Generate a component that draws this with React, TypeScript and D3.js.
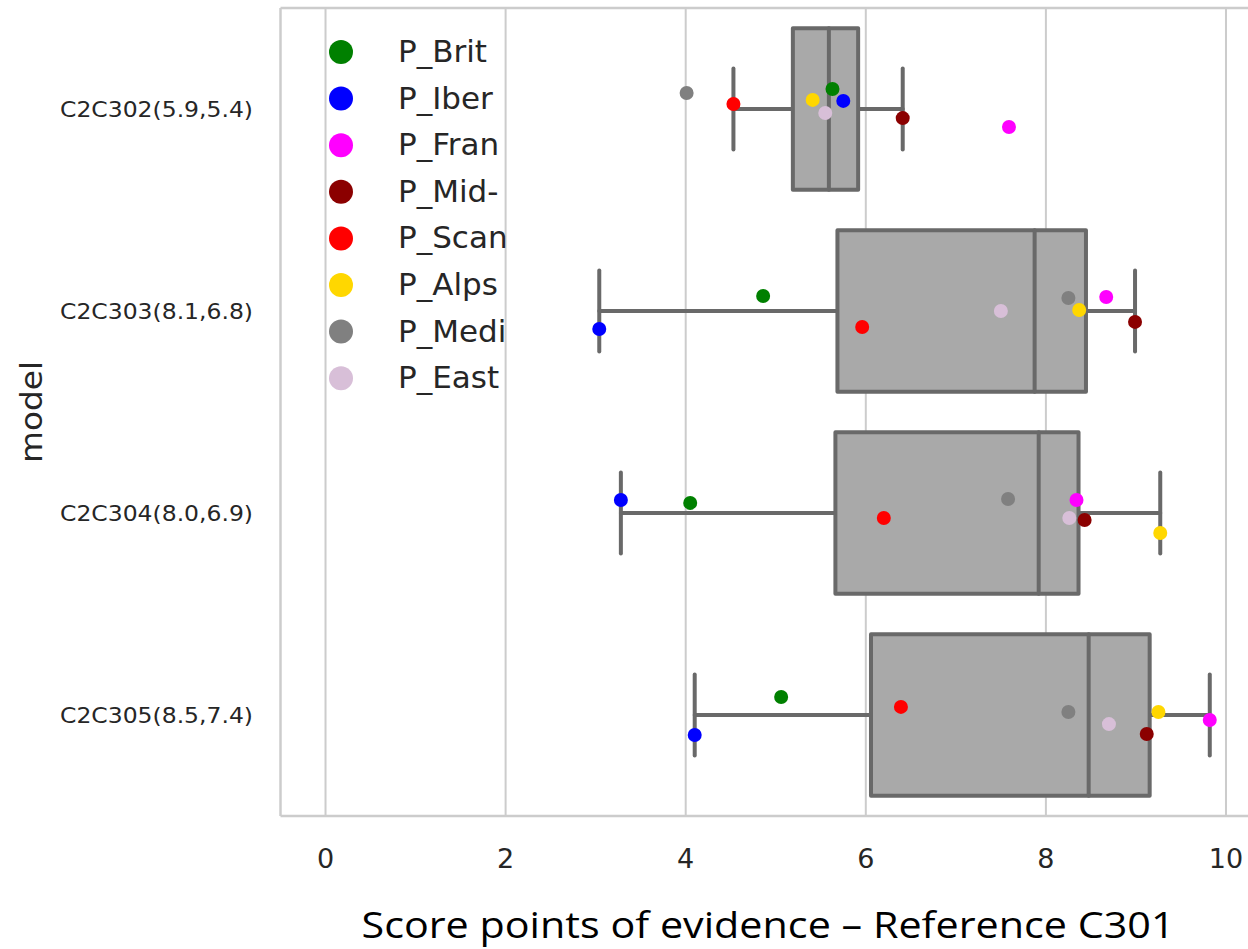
import React from "react";
import * as d3 from "d3";

const models = ["C2C302(5.9,5.4)", "C2C303(8.1,6.8)", "C2C304(8.0,6.9)", "C2C305(8.5,7.4)"];
const populations = ["P_Brit", "P_Iber", "P_Fran", "P_Mid-", "P_Scan", "P_Alps", "P_Medi", "P_East"];
const popColors = ["#008000", "#0000ff", "#ff00ff", "#8b0000", "#ff0000", "#ffd700", "#808080", "#d8bfd8"];

// scores per model, in population order
const scoresC2C302 = [5.63, 5.75, 7.59, 6.41, 4.53, 5.41, 4.01, 5.55];
const scoresC2C303 = [4.86, 3.04, 8.67, 8.99, 5.96, 8.37, 8.25, 7.5];
const scoresC2C304 = [4.05, 3.28, 8.34, 8.43, 6.2, 9.27, 7.58, 8.26];
const scoresC2C305 = [5.06, 4.1, 9.82, 9.12, 6.39, 9.25, 8.25, 8.7];

// strip-plot jitter (category units)
const jitterC2C302 = [-0.099, -0.04, 0.089, 0.045, -0.025, -0.045, -0.079, 0.02];
const jitterC2C303 = [-0.074, 0.089, -0.069, 0.054, 0.079, -0.005, -0.064, 0.0];
const jitterC2C304 = [-0.05, -0.064, -0.064, 0.035, 0.025, 0.099, -0.069, 0.025];
const jitterC2C305 = [-0.089, 0.099, 0.025, 0.094, -0.04, -0.015, -0.015, 0.045];

const xTicks = [0, 2, 4, 6, 8, 10];
const xDomain = [-0.5, 10.33];

const scores = [scoresC2C302, scoresC2C303, scoresC2C304, scoresC2C305];
const jitters = [jitterC2C302, jitterC2C303, jitterC2C304, jitterC2C305];

const W = 1248;
const H = 949;
const left = 280.5;
const right = 1255.7;
const top = 8;
const bottom = 816;

const textColor = "#262626";
const gridColor = "#cccccc";
const boxFill = "#a9a9a9";
const boxLine = "#696969";

function boxStats(vals: number[]) {
  const s = vals.slice().sort((a, b) => a - b);
  const q1 = d3.quantileSorted(s, 0.25) as number;
  const med = d3.quantileSorted(s, 0.5) as number;
  const q3 = d3.quantileSorted(s, 0.75) as number;
  const iqr = q3 - q1;
  const lo = d3.min(s.filter((v) => v >= q1 - 1.5 * iqr)) as number;
  const hi = d3.max(s.filter((v) => v <= q3 + 1.5 * iqr)) as number;
  return { q1, med, q3, lo, hi };
}

export default function App() {
  const x = d3.scaleLinear().domain(xDomain).range([left, right]);
  const y = d3.scaleBand().domain(models).range([top, bottom]).padding(0);
  const step = y.step();
  const boxH = step * 0.8;
  const capHalf = boxH / 4;

  return (
    <svg
      width={W}
      height={H}
      style={{ position: "absolute", left: 0, top: 0, background: "#fff" }}
      fontFamily="DejaVu Sans"
    >
      {/* grid */}
      {xTicks.map((t) => (
        <line key={"g" + t} x1={x(t)} x2={x(t)} y1={top} y2={bottom} stroke={gridColor} strokeWidth={2} />
      ))}
      {/* spines */}
      <line x1={left} x2={right} y1={top} y2={top} stroke={gridColor} strokeWidth={2.5} />
      <line x1={left} x2={right} y1={bottom} y2={bottom} stroke={gridColor} strokeWidth={2.5} />
      <line x1={left} x2={left} y1={top} y2={bottom} stroke={gridColor} strokeWidth={2.5} />
      <line x1={right} x2={right} y1={top} y2={bottom} stroke={gridColor} strokeWidth={2.5} />

      {/* boxes */}
      {models.map((m, i) => {
        const st = boxStats(scores[i]);
        const cy = (y(m) as number) + step / 2;
        return (
          <g key={"b" + m} stroke={boxLine} strokeWidth={4} strokeLinejoin="round" strokeLinecap="round">
            <line x1={x(st.lo)} x2={x(st.q1)} y1={cy} y2={cy} />
            <line x1={x(st.q3)} x2={x(st.hi)} y1={cy} y2={cy} />
            <line x1={x(st.lo)} x2={x(st.lo)} y1={cy - capHalf} y2={cy + capHalf} />
            <line x1={x(st.hi)} x2={x(st.hi)} y1={cy - capHalf} y2={cy + capHalf} />
            <rect x={x(st.q1)} y={cy - boxH / 2} width={x(st.q3) - x(st.q1)} height={boxH} fill={boxFill} />
            <line x1={x(st.med)} x2={x(st.med)} y1={cy - boxH / 2} y2={cy + boxH / 2} />
          </g>
        );
      })}

      {/* points */}
      {models.map((m, i) => {
        const cy = (y(m) as number) + step / 2;
        return (
          <g key={"p" + m}>
            {scores[i].map((v, j) => (
              <circle key={j} cx={x(v)} cy={cy + jitters[i][j] * step} r={7} fill={popColors[j]} />
            ))}
          </g>
        );
      })}

      {/* y tick labels */}
      {models.map((m) => (
        <text
          key={"yl" + m}
          x={253}
          y={(y(m) as number) + step / 2 + 8}
          textAnchor="end"
          fontSize={21}
          fill={textColor}
          textLength={193}
          lengthAdjust="spacingAndGlyphs"
        >
          {m}
        </text>
      ))}

      {/* x tick labels */}
      {xTicks.map((t) => (
        <text key={"xl" + t} x={x(t)} y={868} textAnchor="middle" fontSize={27} fill={textColor}>
          {t}
        </text>
      ))}

      {/* axis labels */}
      <text
        x={768}
        y={938}
        textAnchor="middle"
        fontSize={37}
        fontFamily="Open Sans"
        fill="#000"
        textLength={813}
        lengthAdjust="spacingAndGlyphs"
      >
        Score points of evidence – Reference C301
      </text>
      <text
        transform={`translate(42, ${(top + bottom) / 2}) rotate(-90)`}
        textAnchor="middle"
        fontSize={31}
        fill={textColor}
        textLength={102}
        lengthAdjust="spacingAndGlyphs"
      >
        model
      </text>

      {/* legend */}
      {populations.map((p, i) => (
        <g key={"lg" + p} transform={`translate(341, ${52 + i * 46.6})`}>
          <circle cx={0} cy={0} r={12} fill={popColors[i]} />
          <text x={57} y={10} fontSize={31} fill={textColor}>
            {p}
          </text>
        </g>
      ))}
    </svg>
  );
}
